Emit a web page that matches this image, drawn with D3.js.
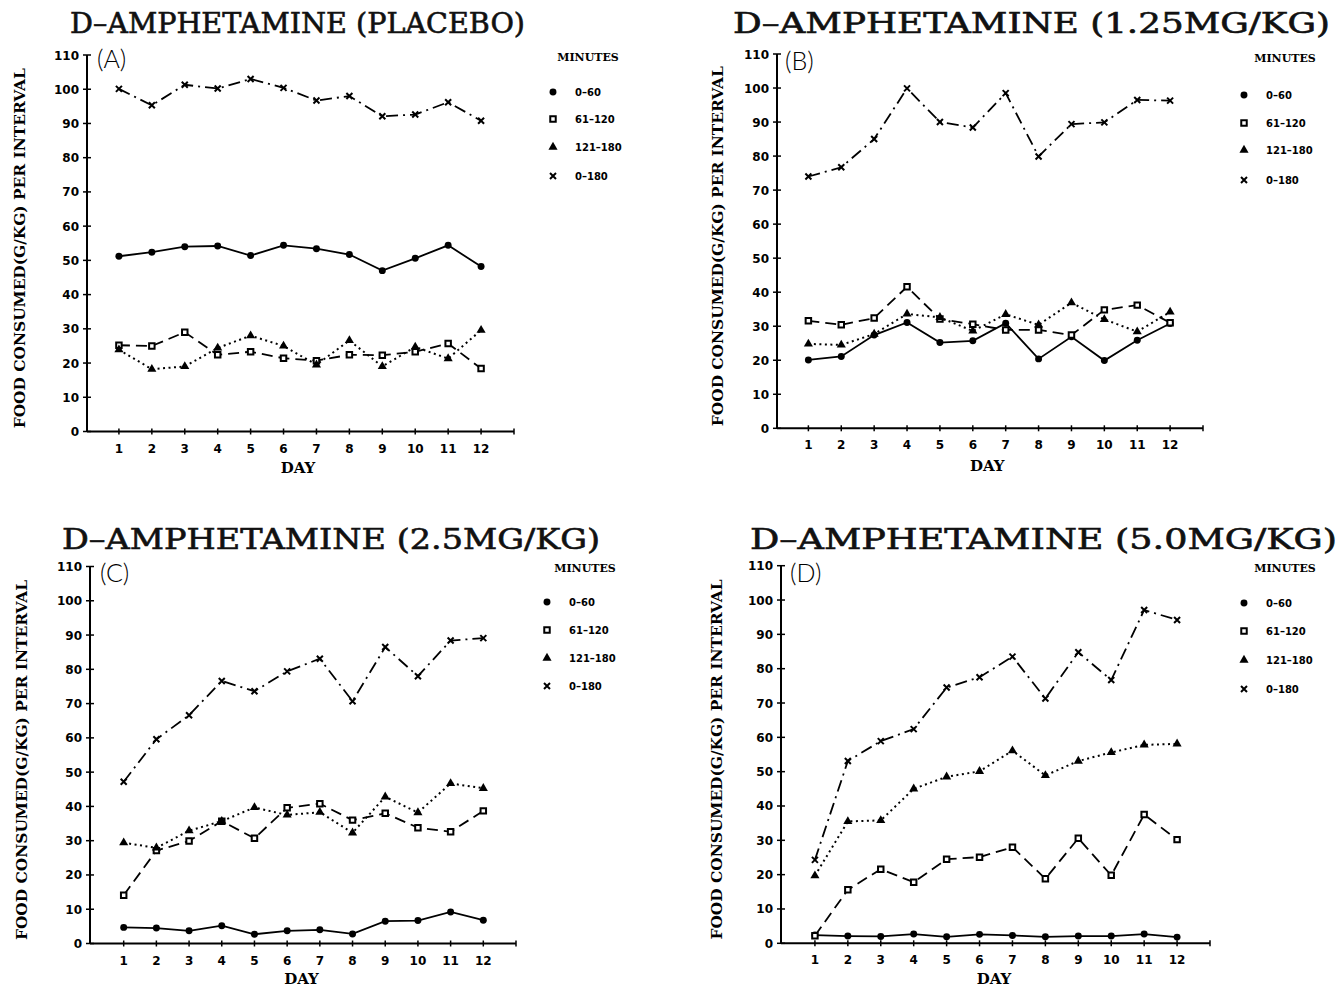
<!DOCTYPE html>
<html>
<head>
<meta charset="utf-8">
<script src="https://cdn.jsdelivr.net/npm/d3@7"></script>
<style>
  body { margin: 0; background: #fff; }
  svg { display: block; }
</style>
</head>
<body>
<svg width="1341" height="989"></svg>
<script>
// ---- data ----
const days = [1, 2, 3, 4, 5, 6, 7, 8, 9, 10, 11, 12];
const yTicks = [0, 10, 20, 30, 40, 50, 60, 70, 80, 90, 100, 110];
const seriesNames = ["0\u201360", "61\u2013120", "121\u2013180", "0\u2013180"];
const panelTitles = [
  "D\u2013AMPHETAMINE (PLACEBO)",
  "D\u2013AMPHETAMINE (1.25MG/KG)",
  "D\u2013AMPHETAMINE (2.5MG/KG)",
  "D\u2013AMPHETAMINE (5.0MG/KG)"
];
const panelLetters = ["(A)", "(B)", "(C)", "(D)"];

// placebo
const placebo_0_60    = [51.2, 52.4, 54.0, 54.2, 51.4, 54.4, 53.4, 51.7, 47.0, 50.6, 54.4, 48.2];
const placebo_61_120  = [25.2, 25.0, 29.0, 22.4, 23.3, 21.4, 20.7, 22.4, 22.3, 23.3, 25.7, 18.4];
const placebo_121_180 = [23.9, 18.2, 19.0, 24.4, 28.0, 25.0, 19.5, 26.6, 19.0, 24.7, 21.3, 29.6];
const placebo_0_180   = [100.1, 95.3, 101.3, 100.2, 103.0, 100.4, 96.7, 98.0, 92.1, 92.6, 96.2, 90.8];

// 1.25 mg/kg
const dose125_0_60    = [20.1, 21.1, 27.4, 31.1, 25.2, 25.7, 30.9, 20.4, 26.9, 19.9, 25.9, 30.8];
const dose125_61_120  = [31.6, 30.4, 32.4, 41.6, 32.1, 30.6, 28.9, 28.9, 27.4, 34.8, 36.2, 31.0];
const dose125_121_180 = [24.8, 24.5, 27.7, 33.6, 32.6, 28.6, 33.5, 30.4, 36.9, 32.0, 28.4, 34.2];
const dose125_0_180   = [74.0, 76.7, 85.0, 99.9, 90.0, 88.4, 98.5, 79.9, 89.4, 89.9, 96.5, 96.3];

// 2.5 mg/kg
const dose25_0_60    = [4.7, 4.5, 3.7, 5.2, 2.7, 3.7, 4.0, 2.8, 6.5, 6.7, 9.2, 6.8];
const dose25_61_120  = [14.1, 27.1, 29.9, 35.7, 30.7, 39.6, 40.8, 36.0, 38.0, 33.8, 32.6, 38.7];
const dose25_121_180 = [29.4, 27.9, 32.9, 35.7, 39.7, 37.5, 38.3, 32.3, 42.8, 38.2, 46.7, 45.3];
const dose25_0_180   = [47.2, 59.6, 66.6, 76.6, 73.6, 79.4, 83.1, 70.7, 86.5, 78.0, 88.4, 89.1];

// 5.0 mg/kg
const dose50_0_60    = [2.4, 2.1, 2.0, 2.7, 1.9, 2.6, 2.3, 1.9, 2.1, 2.1, 2.7, 1.8];
const dose50_61_120  = [2.2, 15.6, 21.6, 17.8, 24.5, 25.1, 28.0, 18.8, 30.6, 19.8, 37.5, 30.2];
const dose50_121_180 = [19.7, 35.5, 35.8, 45.0, 48.5, 50.1, 56.1, 48.9, 53.1, 55.6, 57.8, 58.1];
const dose50_0_180   = [24.3, 53.1, 58.9, 62.4, 74.5, 77.5, 83.5, 71.3, 84.8, 76.7, 97.1, 94.2];

// ---- layout ----
const panels = [
  { series: [placebo_0_60, placebo_61_120, placebo_121_180, placebo_0_180],
    axisX: 87, xr: [86, 514], yr: [431.5, 55],
    titleX: 70, titleY: 33, titleW: 455,
    letterX: 97, letterY: 68,
    legX: 553, legY: [92, 119, 147, 176], legHeadY: 61, legHeadX: 588,
    labelX: 20, dayY: 473 },
  { series: [dose125_0_60, dose125_61_120, dose125_121_180, dose125_0_180],
    axisX: 777, xr: [775.5, 1203], yr: [428.3, 54],
    titleX: 733, titleY: 33, titleW: 597,
    letterX: 785, letterY: 70,
    legX: 1244, legY: [95, 123, 150, 180], legHeadY: 62, legHeadX: 1285,
    labelX: 718, dayY: 471 },
  { series: [dose25_0_60, dose25_61_120, dose25_121_180, dose25_0_180],
    axisX: 90, xr: [91, 516], yr: [943.5, 566.5],
    titleX: 62, titleY: 549, titleW: 538,
    letterX: 100, letterY: 582,
    legX: 547, legY: [602, 630, 658, 686], legHeadY: 572, legHeadX: 585,
    labelX: 22, dayY: 984 },
  { series: [dose50_0_60, dose50_61_120, dose50_121_180, dose50_0_180],
    axisX: 781, xr: [782, 1210], yr: [943.3, 565.7],
    titleX: 750, titleY: 549, titleW: 587,
    letterX: 790, letterY: 582,
    legX: 1244, legY: [603, 631, 660, 689], legHeadY: 572, legHeadX: 1285,
    labelX: 717, dayY: 984 }
];

const dashes = [null, "11,6", "2,3.5", "12,5,2,5"];

const svg = d3.select("svg");

function drawMarker(g, kind, x, y) {
  if (kind === 0) {
    g.append("path").attr("d", d3.symbol(d3.symbolCircle, 38)())
      .attr("transform", `translate(${x},${y})`).attr("fill", "#000");
  } else if (kind === 1) {
    g.append("path").attr("d", d3.symbol(d3.symbolSquare, 30)())
      .attr("transform", `translate(${x},${y})`)
      .attr("fill", "#fff").attr("stroke", "#000").attr("stroke-width", 2);
  } else if (kind === 2) {
    g.append("path").attr("d", d3.symbol(d3.symbolTriangle, 36)())
      .attr("transform", `translate(${x},${y})`).attr("fill", "#000");
  } else {
    g.append("path").attr("d", "M-3,-3L3,3M3,-3L-3,3")
      .attr("transform", `translate(${x},${y})`)
      .attr("stroke", "#000").attr("stroke-width", 2).attr("fill", "none");
  }
}

panels.forEach((p, i) => {
  const g = svg.append("g");
  const x = d3.scaleLinear().domain([0, 13]).range(p.xr);
  const y = d3.scaleLinear().domain([0, 110]).range(p.yr);

  // title
  g.append("text")
    .attr("x", p.titleX).attr("y", p.titleY)
    .attr("textLength", p.titleW).attr("lengthAdjust", "spacingAndGlyphs")
    .style("font-family", "'DejaVu Serif', serif")
    .style("font-size", "27px")
    .attr("fill", "#111").attr("stroke", "#111").attr("stroke-width", 0.6)
    .text(panelTitles[i]);

  // y axis
  g.append("line")
    .attr("x1", p.axisX).attr("x2", p.axisX)
    .attr("y1", y(0)).attr("y2", y(110))
    .attr("stroke", "#000").attr("stroke-width", 2);
  g.selectAll(".yt").data(yTicks).enter().append("line")
    .attr("x1", p.axisX - 4).attr("x2", p.axisX + 4)
    .attr("y1", d => y(d)).attr("y2", d => y(d))
    .attr("stroke", "#000").attr("stroke-width", 1.5);
  g.selectAll(".yl").data(yTicks).enter().append("text")
    .attr("x", p.axisX - 8).attr("y", d => y(d) + 4.5)
    .attr("text-anchor", "end")
    .style("font-family", "'DejaVu Sans', sans-serif")
    .style("font-weight", "bold").style("font-size", "12px")
    .text(d => d);

  // x axis
  g.append("line")
    .attr("x1", p.axisX).attr("x2", x(13))
    .attr("y1", y(0)).attr("y2", y(0))
    .attr("stroke", "#000").attr("stroke-width", 2);
  g.selectAll(".xt").data(days.concat([13])).enter().append("line")
    .attr("x1", d => x(d)).attr("x2", d => x(d))
    .attr("y1", y(0) - 3).attr("y2", y(0) + 3)
    .attr("stroke", "#000").attr("stroke-width", 1.5);
  g.selectAll(".xl").data(days).enter().append("text")
    .attr("x", d => x(d)).attr("y", y(0) + 21)
    .attr("text-anchor", "middle")
    .style("font-family", "'DejaVu Sans', sans-serif")
    .style("font-weight", "bold").style("font-size", "12px")
    .text(d => d);

  // axis titles
  g.append("text")
    .attr("x", (p.xr[0] + p.xr[1]) / 2 - 2).attr("y", p.dayY)
    .attr("text-anchor", "middle")
    .style("font-family", "'DejaVu Serif', serif")
    .style("font-weight", "bold").style("font-size", "15px")
    .text("DAY");
  const midY = (y(0) + y(110)) / 2;
  g.append("text")
    .attr("transform", `translate(${p.labelX + 5},${midY + 5}) rotate(-90)`)
    .attr("text-anchor", "middle")
    .attr("textLength", 360).attr("lengthAdjust", "spacingAndGlyphs")
    .style("font-family", "'DejaVu Serif', serif")
    .style("font-weight", "bold").style("font-size", "14px")
    .text("FOOD CONSUMED(G/KG) PER INTERVAL");

  // panel letter
  g.append("text")
    .attr("x", p.letterX).attr("y", p.letterY)
    .style("font-family", "Lato, 'DejaVu Sans', sans-serif")
    .style("font-weight", "300").style("font-size", "25px")
    .text(panelLetters[i]);

  // series lines then markers
  const line = d3.line().x((d, j) => x(days[j])).y(d => y(d));
  p.series.forEach((vals, k) => {
    g.append("path")
      .attr("d", line(vals))
      .attr("fill", "none").attr("stroke", "#000")
      .attr("stroke-width", k === 2 ? 2 : 1.8)
      .attr("stroke-dasharray", dashes[k]);
  });
  p.series.forEach((vals, k) => {
    vals.forEach((v, j) => drawMarker(g, k, x(days[j]), y(v)));
  });

  // legend
  g.append("text")
    .attr("x", p.legHeadX).attr("y", p.legHeadY)
    .attr("text-anchor", "middle")
    .style("font-family", "'DejaVu Serif', serif")
    .style("font-weight", "bold").style("font-size", "11px")
    .text("MINUTES");
  seriesNames.forEach((name, k) => {
    drawMarker(g, k, p.legX, p.legY[k]);
    g.append("text")
      .attr("x", p.legX + 22).attr("y", p.legY[k] + 4)
      .style("font-family", "'DejaVu Sans', sans-serif")
      .style("font-weight", "bold").style("font-size", "10px")
      .text(name);
  });
});
</script>
</body>
</html>
